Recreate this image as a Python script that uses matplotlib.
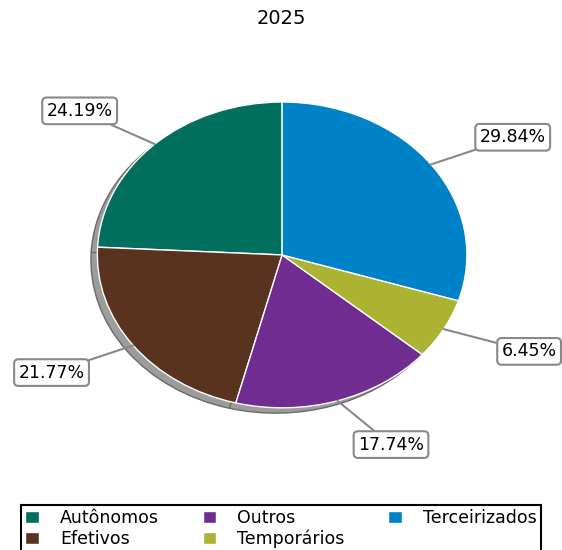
import matplotlib.pyplot as plt
import numpy as np

categorias = ['Autônomos', 'Efetivos', 'Outros', 'Temporários', 'Terceirizados']
valores = [30, 27, 22, 8, 37]
cores = ['#006f5e', '#5a3320', '#702c90', '#acb333', '#0082c8']
titulo = '2025'

fig = plt.figure(figsize=[5.62, 5.5], dpi=100)
ax = fig.add_axes([0.091, 0.189, 0.822, 0.695])

sombra = dict(ox=-0.025, oy=-0.025, facecolor='#9c9c9c', edgecolor='#6a6a6a',
              linewidth=1, alpha=1)
wedges, _ = ax.pie(valores, colors=cores, startangle=90, shadow=sombra,
                   wedgeprops=dict(edgecolor='white', linewidth=1))
ax.set_aspect('auto')
ax.set_xlim(-1.25, 1.25)
ax.set_ylim(-1.25, 1.25)

total = sum(valores)
caixa = dict(boxstyle='round,pad=0.25', fc='white', ec='#888888', lw=1.5)
for w, v in zip(wedges, valores):
    ang = np.deg2rad((w.theta1 + w.theta2) / 2)
    x, y = np.cos(ang), np.sin(ang)
    tx = 1.3 * x + 0.2 * np.sign(x)
    ty = 1.3 * y
    ax.annotate(f'{100 * v / total:.2f}%', xy=(x, y), xytext=(tx, ty),
                ha='center', va='center', fontsize=12.5, bbox=caixa,
                arrowprops=dict(arrowstyle='-', color='#888888', lw=1.5,
                                shrinkA=0, shrinkB=0),
                annotation_clip=False)

fig.text(0.5, 1 - 18 / 550, titulo, ha='center', va='center', fontsize=14)

leg = fig.legend(wedges, categorias, loc='upper center', ncol=3,
                 bbox_to_anchor=(0.5, 1 - 505 / 550), fontsize=12.5,
                 fancybox=False, edgecolor='black', framealpha=1,
                 handlelength=0.8, handleheight=0.7, columnspacing=2.5,
                 borderpad=0.25, labelspacing=0.15, handletextpad=1.2,
                 borderaxespad=0)
leg.get_frame().set_linewidth(1.5)

fig.savefig('out.png', dpi=100)
